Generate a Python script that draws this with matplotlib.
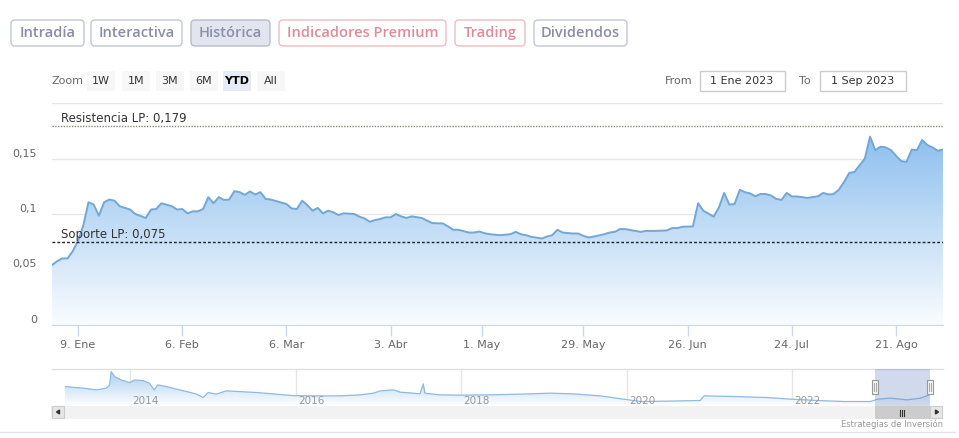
import numpy as np
import pandas as pd
import matplotlib
matplotlib.use('Agg')
import matplotlib.pyplot as plt
import matplotlib.dates as mdates
from matplotlib.patches import FancyBboxPatch, Rectangle
from matplotlib.colors import LinearSegmentedColormap

# ---- data ----
main_dates = ['2023-01-02','2023-01-03','2023-01-04','2023-01-05','2023-01-06','2023-01-09','2023-01-10','2023-01-11',
    '2023-01-12','2023-01-13','2023-01-16','2023-01-17','2023-01-18','2023-01-19','2023-01-23','2023-01-24','2023-01-26',
    '2023-01-27','2023-01-30','2023-01-31','2023-02-02','2023-02-03','2023-02-06','2023-02-07','2023-02-08','2023-02-09',
    '2023-02-10','2023-02-13','2023-02-14','2023-02-15','2023-02-16','2023-02-17','2023-02-20','2023-02-21','2023-02-22',
    '2023-02-23','2023-02-24','2023-02-27','2023-02-28','2023-03-01','2023-03-06','2023-03-07','2023-03-08','2023-03-09',
    '2023-03-10','2023-03-13','2023-03-14','2023-03-15','2023-03-16','2023-03-17','2023-03-20','2023-03-21','2023-03-23',
    '2023-03-24','2023-03-27','2023-03-28','2023-03-29','2023-03-30','2023-03-31','2023-04-03','2023-04-04','2023-04-05',
    '2023-04-06','2023-04-11','2023-04-13','2023-04-14','2023-04-17','2023-04-19','2023-04-20','2023-04-21','2023-04-24',
    '2023-04-26','2023-04-27','2023-04-28','2023-05-02','2023-05-03','2023-05-05','2023-05-09','2023-05-10','2023-05-11',
    '2023-05-12','2023-05-15','2023-05-17','2023-05-18','2023-05-19','2023-05-22','2023-05-23','2023-05-25','2023-05-26',
    '2023-05-29','2023-05-30','2023-05-31','2023-06-02','2023-06-05','2023-06-06','2023-06-07','2023-06-08','2023-06-12',
    '2023-06-13','2023-06-14','2023-06-16','2023-06-20','2023-06-21','2023-06-22','2023-06-23','2023-06-27','2023-06-28',
    '2023-06-29','2023-07-03','2023-07-04','2023-07-05','2023-07-06','2023-07-07','2023-07-10','2023-07-11','2023-07-12',
    '2023-07-13','2023-07-14','2023-07-17','2023-07-18','2023-07-19','2023-07-20','2023-07-21','2023-07-24','2023-07-25',
    '2023-07-27','2023-07-31','2023-08-01','2023-08-02','2023-08-03','2023-08-04','2023-08-07','2023-08-08','2023-08-09',
    '2023-08-10','2023-08-11','2023-08-14','2023-08-15','2023-08-16','2023-08-17','2023-08-18','2023-08-21','2023-08-22',
    '2023-08-23','2023-08-24','2023-08-25','2023-08-28','2023-08-29','2023-08-30','2023-08-31','2023-09-01']
main_vals = [.054,.0575,.060,.060,.0667,.0758,.0894,.1106,
    .1085,.0985,.1106,.113,.112,.107,.104,.100,.0964,
    .104,.1045,.1097,.107,.104,.1045,.1006,.1024,.1024,
    .1045,.1152,.1097,.1152,.1127,.113,.1206,.1197,.1173,
    .1203,.1176,.1197,.1136,.113,.109,.105,.1045,.112,
    .108,.103,.1055,.1006,.103,.1015,.099,.1006,.100,
    .0976,.096,.093,.0945,.0955,.097,.097,.100,.0979,
    .0964,.0979,.0964,.094,.0918,.0915,.0888,.0858,.0858,
    .0833,.0833,.0842,.0827,.0818,.0809,.0818,.0839,.0818,
    .0809,.0794,.0779,.0797,.0809,.0858,.0833,.0824,.0824,
    .0803,.0788,.0797,.0818,.0833,.0839,.0864,.0864,.0848,
    .0839,.0848,.0848,.0852,.0873,.0873,.0885,.0888,.1097,
    .103,.0976,.106,.119,.1085,.109,.1218,.1197,.1185,
    .116,.118,.118,.1167,.1136,.1127,.119,.1158,.1158,
    .1145,.116,.119,.1176,.118,.1218,.1288,.137,.1379,
    .144,.150,.1697,.1576,.1606,.160,.1576,.1524,.1476,
    .147,.158,.1576,.1667,.1621,.160,.157,.158]

market_holidays = ['2023-04-07', '2023-04-10', '2023-05-01']

tick_dates = ['2023-01-09','2023-02-06','2023-03-06','2023-04-03','2023-05-01','2023-05-29','2023-06-26','2023-07-24','2023-08-21']
tick_labels = ['9. Ene','6. Feb','6. Mar','3. Abr','1. May','29. May','26. Jun','24. Jul','21. Ago']
y_ticks = [0, 0.05, 0.1, 0.15, 0.2]
y_labels = ['0', '0,05', '0,1', '0,15', '']

resistencia = 0.179
soporte = 0.075

nav_dates = ['2013-03-18','2013-06-06','2013-08-04','2013-09-16','2013-10-01','2013-10-08','2013-10-23','2013-11-22',
    '2013-12-28','2014-01-19','2014-02-25','2014-03-26','2014-04-16','2014-05-01','2014-06-10','2014-07-24','2014-09-06',
    '2014-10-20','2014-11-18','2014-12-10','2015-01-15','2015-02-28','2015-04-27','2015-07-13','2015-09-24','2015-12-20',
    '2016-03-17','2016-07-12','2016-10-12','2016-12-09','2017-01-08','2017-03-08','2017-04-06','2017-06-03','2017-07-02',
    '2017-07-17','2017-07-24','2017-09-27','2017-12-28','2018-05-08','2018-09-16','2019-01-30','2019-05-12','2019-09-06',
    '2019-12-17','2020-03-03','2020-06-28','2020-11-20','2020-12-08','2021-04-20','2021-09-13','2021-12-24','2022-04-23',
    '2022-08-19','2022-12-13','2023-01-12','2023-03-10','2023-05-23','2023-07-20','2023-08-30']
nav_vals = [.287,.262,.235,.262,.313,.519,.442,.390,
    .349,.390,.380,.339,.235,.313,.287,.246,.209,
    .169,.116,.194,.169,.220,.209,.194,.173,.147,
    .142,.142,.158,.184,.220,.235,.200,.184,.173,
    .328,.184,.158,.153,.158,.169,.184,.173,.142,
    .091,.054,.060,.070,.142,.132,.116,.091,.070,
    .054,.054,.091,.107,.080,.107,.158]
nav_years = ['2014', '2016', '2018', '2020', '2022']

buttons = ['Intradía', 'Interactiva', 'Histórica', 'Indicadores Premium', 'Trading', 'Dividendos']
zoom_buttons = ['1W', '1M', '3M', '6M', 'YTD', 'All']
date_from = '1 Ene 2023'
date_to = '1 Sep 2023'

# ---- figure ----
W, H = 959, 438
fig = plt.figure(figsize=(W/100, H/100), dpi=100)
fig.patch.set_facecolor('white')

def fbox(x0, y0, x1, y1):
    # pixel box (top-left origin) -> figure rect
    return [x0/W, 1-y1/H, (x1-x0)/W, (y1-y0)/H]

# overlay in pixel coordinates for the page furniture
bg = fig.add_axes([0, 0, 1, 1], zorder=0)
bg.set_xlim(0, W); bg.set_ylim(H, 0); bg.axis('off')

# top tab buttons
btn_x = [(11, 84), (91, 182), (191, 270), (279, 446), (455, 525), (534, 627)]
btn_style = {'Histórica': ('#e2e5ed', '#b8bccb', '#8d8fb0'),
             'Indicadores Premium': ('white', '#f0bcc4', '#df8b98'),
             'Trading': ('white', '#f0bcc4', '#df8b98')}
for b, (x0, x1) in zip(buttons, btn_x):
    fc, ec, tc = btn_style.get(b, ('white', '#c4c6d3', '#8a8ca8'))
    bg.add_patch(FancyBboxPatch((x0, 20), x1-x0, 26, boxstyle='round,pad=0,rounding_size=4',
                                fc=fc, ec=ec, lw=1))
    bg.text((x0+x1)/2, 33, b, ha='center', va='center', fontsize=10.5, color=tc,
            family='Open Sans', weight='semibold')

# zoom buttons
bg.text(52, 81, 'Zoom', ha='left', va='center', fontsize=8, color='#666666', family='DejaVu Sans')
zx = [101, 136, 170, 204, 237, 271]
for z, x in zip(zoom_buttons, zx):
    sel = z == 'YTD'
    bg.add_patch(Rectangle((x-14, 71), 28, 20, fc='#e6ebf5' if sel else '#f7f7f7', ec='none'))
    bg.text(x, 81, z, ha='center', va='center', fontsize=8, color='#000000' if sel else '#333333',
            weight='bold' if sel else 'normal')

# date range inputs
bg.text(692, 81, 'From', ha='right', va='center', fontsize=8, color='#666666')
bg.add_patch(Rectangle((700, 71), 85, 20, fc='white', ec='#cccccc', lw=1))
bg.text(742, 81, date_from, ha='center', va='center', fontsize=8, color='#333333')
bg.text(811, 81, 'To', ha='right', va='center', fontsize=8, color='#666666')
bg.add_patch(Rectangle((820, 71), 86, 20, fc='white', ec='#cccccc', lw=1))
bg.text(863, 81, date_to, ha='center', va='center', fontsize=8, color='#333333')

# ---- main chart (ordinal x axis: one slot per session) ----
sessions = pd.bdate_range('2023-01-02', '2023-09-01', freq='C', holidays=market_holidays)
xi = sessions.get_indexer(pd.to_datetime(main_dates)).astype(float)
yv = np.array(main_vals)

ax = fig.add_axes(fbox(52, 103, 943, 325), zorder=2)
ax.patch.set_alpha(0)
ax.set_xlim(0, len(sessions)-1)
ax.set_ylim(0, 0.2)

# gradient fill under the curve
cmap = LinearSegmentedColormap.from_list('fill', ['#ffffff', '#7cb5ec'])
grad = np.linspace(0.04, 1.0, 256).reshape(-1, 1)
im = ax.imshow(grad, cmap=cmap, vmin=0, vmax=1, aspect='auto', origin='lower',
               extent=[0, len(sessions)-1, 0, 0.2], zorder=1)
poly = ax.fill_between(xi, 0, yv, color='none', lw=0)
im.set_clip_path(poly.get_paths()[0], transform=ax.transData)
ax.plot(xi, yv, color='#74a7d5', lw=1.4, zorder=3)

for t in y_ticks[1:]:
    ax.axhline(t, color='#e6e6e6', lw=1, zorder=0)
ax.set_yticks(y_ticks)
ax.set_yticklabels([])
for t, l in zip(y_ticks, y_labels):
    bg.text(37, 325 - t/0.2*222 - 5, l, ha='right', va='center', fontsize=8, color='#666666')

tick_pos = []
for d in pd.to_datetime(tick_dates):
    i = sessions.searchsorted(d)
    tick_pos.append(i if sessions[i] == d else i - 0.5)
ax.set_xticks(tick_pos)
ax.set_xticklabels(tick_labels, fontsize=8, color='#666666')
ax.tick_params(axis='x', length=8, width=1, color='#ccd6eb', pad=3)
ax.tick_params(axis='y', length=0)
for s in ['top', 'right', 'left']:
    ax.spines[s].set_visible(False)
ax.spines['bottom'].set_color('#ccd6eb')

# long-term resistance / support
ax.axhline(resistencia, color='#7d8f76', lw=1, ls=(0, (1, 1)), zorder=4)
ax.text(9/891*(len(sessions)-1), resistencia + 0.0008, 'Resistencia LP: ' + str(resistencia).replace('.', ','),
        fontsize=8.5, color='#333333', va='bottom', zorder=5)
ax.axhline(soporte, color='#222222', lw=1, ls=(0, (2, 1.5)), zorder=4)
ax.text(9/891*(len(sessions)-1), soporte + 0.0008, 'Soporte LP: ' + str(soporte).replace('.', ','),
        fontsize=8.5, color='#333333', va='bottom', zorder=5)

# ---- navigator ----
bg.plot([52, 943], [369, 369], color='#e0e0e0', lw=1)
nav = fig.add_axes(fbox(65, 369, 930, 405), zorder=2)
nav.patch.set_alpha(0)
nd = pd.to_datetime(nav_dates)
nav.set_xlim(pd.Timestamp('2013-03-18'), pd.Timestamp('2023-09-01'))
nav.set_ylim(0, 0.56)
for yr in nav_years:
    d = pd.Timestamp(yr + '-01-01')
    nav.axvline(d, color='#e6e6e6', lw=1, zorder=0)
    nav.text(d + pd.Timedelta(days=10), 0.06, yr, fontsize=7.5, color='#999999', va='center', ha='left')
nim = nav.imshow(grad, cmap=LinearSegmentedColormap.from_list('nf', ['#ffffff', '#a9cdef']), vmin=0, vmax=1,
                 aspect='auto', origin='lower', extent=[mdates.date2num(nd[0]), mdates.date2num(nd[-1]), 0, 0.56], zorder=1)
npoly = nav.fill_between(nd, 0, nav_vals, color='none', lw=0)
nim.set_clip_path(npoly.get_paths()[0], transform=nav.transData)
nav.plot(nd, nav_vals, color='#8fbbe0', lw=0.9, zorder=2)
nav.set_xlim(pd.Timestamp('2013-03-18'), pd.Timestamp('2023-09-01'))
nav.axis('off')

# scrollbar
bg.add_patch(Rectangle((51, 406), 892, 13, fc='#f2f2f2', ec='none'))
bg.add_patch(Rectangle((52, 406), 12, 12, fc='#e6e6e6', ec='#cccccc', lw=0.8))
bg.add_patch(Rectangle((930, 406), 12, 12, fc='#e6e6e6', ec='#cccccc', lw=0.8))
bg.fill([56.5, 59.5, 59.5], [412, 410, 414], color='#333333')
bg.fill([938.5, 935.5, 935.5], [412, 410, 414], color='#333333')

# selected range mask (YTD)
x_sel0 = 65 + (mdates.date2num(pd.Timestamp('2023-01-01')) - mdates.date2num(pd.Timestamp('2013-03-18'))) / \
    (mdates.date2num(pd.Timestamp('2023-09-01')) - mdates.date2num(pd.Timestamp('2013-03-18'))) * 865
bg.add_patch(Rectangle((x_sel0, 406), 930 - x_sel0, 13, fc='#cccccc', ec='none', zorder=3))
xm = (x_sel0 + 930) / 2
for gx in [xm - 2, xm, xm + 2]:
    bg.plot([gx, gx], [409.5, 415.5], color='#333333', lw=0.8, zorder=4)
bg.add_patch(Rectangle((x_sel0, 369), 930 - x_sel0, 37, fc=(102/255, 133/255, 194/255, 0.3), ec='none', zorder=3))
for hx in [x_sel0, 930]:
    bg.add_patch(Rectangle((hx - 3, 380), 6, 14, fc='#f2f2f2', ec='#999999', lw=0.8, zorder=4))
    bg.plot([hx - 0.8, hx - 0.8], [383, 391], color='#999999', lw=0.6, zorder=5)
    bg.plot([hx + 0.8, hx + 0.8], [383, 391], color='#999999', lw=0.6, zorder=5)
bg.set_zorder(3)
bg.patch.set_alpha(0)

bg.text(943, 424, 'Estrategias de Inversión', ha='right', va='center', fontsize=6, color='#999999')
bg.plot([0, 955], [432, 432], color='#e3e3e3', lw=1)

fig.savefig('out.png', dpi=100)
